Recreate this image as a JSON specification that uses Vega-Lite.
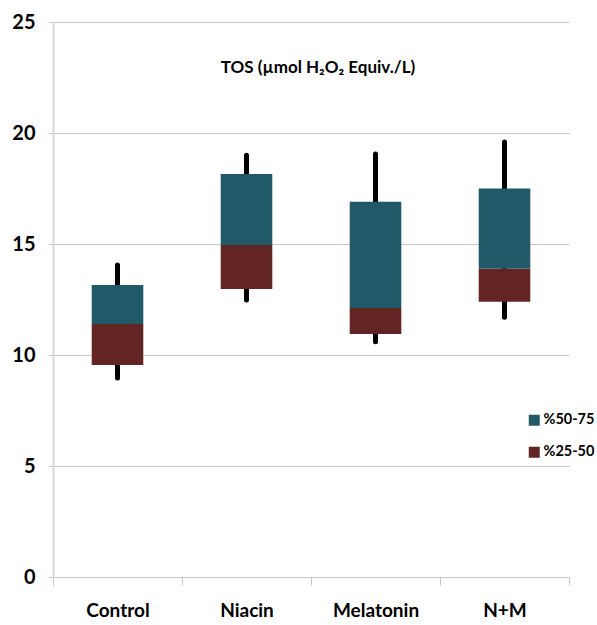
{
  "$schema": "https://vega.github.io/schema/vega-lite/v6.json",
  "width": 516,
  "height": 555,
  "autosize": {"type": "none"},
  "padding": {"left": 53, "top": 22, "right": 28, "bottom": 48},
  "background": "white",
  "datasets": {
    "boxes": [
      {"group": "Control", "min": 8.96, "q1": 9.55, "med": 11.4, "q3": 13.15, "max": 14.05},
      {"group": "Niacin", "min": 12.48, "q1": 12.97, "med": 14.95, "q3": 18.15, "max": 19.0},
      {"group": "Melatonin", "min": 10.6, "q1": 10.95, "med": 12.12, "q3": 16.9, "max": 19.05},
      {"group": "N+M", "min": 11.7, "q1": 12.4, "med": 13.9, "q3": 17.5, "max": 19.6}
    ],
    "heading": [
      {"label": "TOS (µmol H₂O₂ Equiv./L)", "y": 22.95}
    ]
  },
  "layer": [
    {
      "data": {"name": "boxes"},
      "mark": {"type": "rule", "strokeWidth": 5, "strokeCap": "round", "color": "#000000"},
      "encoding": {
        "x": {
          "field": "group",
          "type": "nominal",
          "sort": ["Control", "Niacin", "Melatonin", "N+M"],
          "scale": {"paddingInner": 0, "paddingOuter": 0},
          "axis": {
            "title": null,
            "labelAngle": 0,
            "tickBand": "extent",
            "tickSize": 8,
            "tickColor": "#c8c8c8",
            "domainColor": "#c8c8c8",
            "labelFont": "Lato",
            "labelFontSize": 19,
            "labelFontWeight": "bold",
            "labelColor": "#000000",
            "labelPadding": 16
          }
        },
        "y": {
          "field": "min",
          "type": "quantitative",
          "scale": {"domain": [0, 25], "nice": false},
          "axis": {
            "title": null,
            "values": [0, 5, 10, 15, 20, 25],
            "grid": true,
            "gridColor": "#c8c8c8",
            "gridWidth": 1,
            "tickSize": 5,
            "tickColor": "#c8c8c8",
            "domainColor": "#d9d9d9",
            "domainWidth": 2,
            "labelFont": "Lato",
            "labelFontSize": 20,
            "labelFontWeight": "bold",
            "labelColor": "#000000",
            "labelPadding": 13
          }
        },
        "y2": {"field": "max"}
      }
    },
    {
      "data": {"name": "boxes"},
      "mark": {"type": "bar", "width": {"band": 0.4}},
      "encoding": {
        "x": {"field": "group", "type": "nominal", "sort": ["Control", "Niacin", "Melatonin", "N+M"]},
        "y": {"field": "q1", "type": "quantitative"},
        "y2": {"field": "med"},
        "color": {"datum": "%25-50"}
      }
    },
    {
      "data": {"name": "boxes"},
      "mark": {"type": "bar", "width": {"band": 0.4}},
      "encoding": {
        "x": {"field": "group", "type": "nominal", "sort": ["Control", "Niacin", "Melatonin", "N+M"]},
        "y": {"field": "med", "type": "quantitative"},
        "y2": {"field": "q3"},
        "color": {
          "datum": "%50-75",
          "scale": {"domain": ["%50-75", "%25-50"], "range": ["#215968", "#632523"]},
          "legend": {
            "title": null,
            "orient": "none",
            "legendX": 474,
            "legendY": 391,
            "symbolType": "square",
            "symbolSize": 121,
            "symbolStrokeWidth": 0,
            "labelFont": "Lato",
            "labelFontSize": 14.5,
            "labelFontWeight": "bold",
            "labelColor": "#000000",
            "rowPadding": 17,
            "labelOffset": 2
          }
        }
      }
    },
    {
      "data": {"name": "heading"},
      "mark": {"type": "text", "font": "Lato", "fontSize": 17, "fontWeight": "bold", "color": "#000000", "baseline": "middle", "align": "center", "dx": 7},
      "encoding": {
        "y": {"field": "y", "type": "quantitative"},
        "text": {"field": "label"}
      }
    }
  ],
  "config": {
    "view": {"stroke": null}
  }
}
